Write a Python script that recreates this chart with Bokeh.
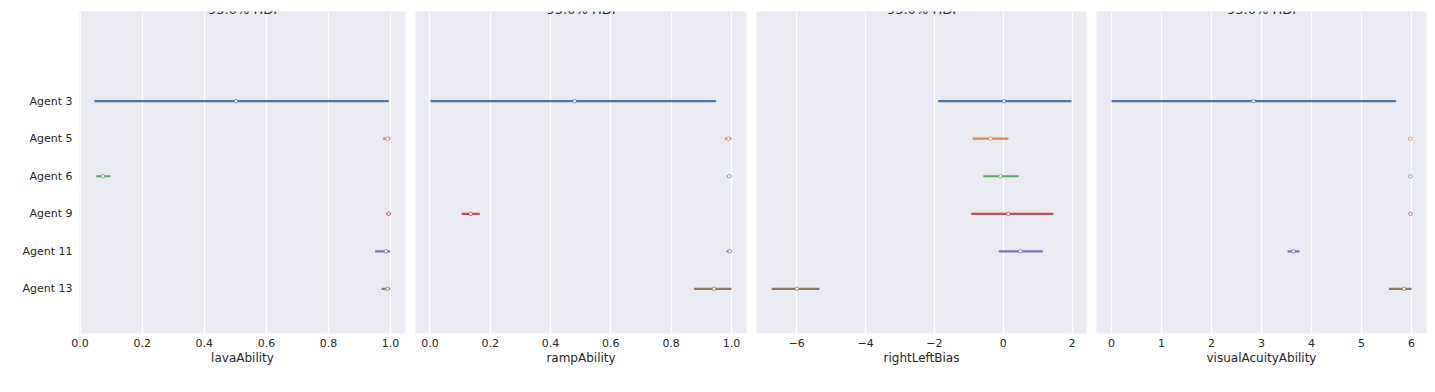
from bokeh.plotting import figure
from bokeh.layouts import row
from bokeh.models import FixedTicker, Range1d, Label, ColumnDataSource
from bokeh.embed import file_html
from bokeh.resources import INLINE

# ---------------- data ----------------
agents = ["Agent 3", "Agent 5", "Agent 6", "Agent 9", "Agent 11", "Agent 13"]
agent_colors = ["#4C72B0", "#DD8452", "#55A868", "#C44E52", "#8172B3", "#937860"]
params = ["lavaAbility", "rampAbility", "rightLeftBias", "visualAcuityAbility"]
hdi_label = "95.0% HDI"

lava_low = [0.046, 0.976, 0.052, 0.987, 0.950, 0.971]
lava_high = [0.994, 0.999, 0.098, 1.000, 0.999, 0.999]
lava_mid = [0.502, 0.990, 0.073, 0.994, 0.985, 0.990]

ramp_low = [0.002, 0.978, 0.985, 0.105, 0.984, 0.876]
ramp_high = [0.949, 1.000, 1.000, 0.165, 1.000, 1.000]
ramp_mid = [0.480, 0.990, 0.993, 0.135, 0.995, 0.942]

bias_low = [-1.89, -0.89, -0.58, -0.93, -0.13, -6.73]
bias_high = [1.98, 0.15, 0.45, 1.46, 1.15, -5.34]
bias_mid = [0.02, -0.37, -0.08, 0.15, 0.50, -6.00]

visual_low = [0.00, 5.94, 5.95, 5.96, 3.52, 5.55]
visual_high = [5.69, 6.00, 6.00, 6.00, 3.76, 6.00]
visual_mid = [2.84, 5.98, 5.98, 5.98, 3.64, 5.85]

lows = [lava_low, ramp_low, bias_low, visual_low]
highs = [lava_high, ramp_high, bias_high, visual_high]
mids = [lava_mid, ramp_mid, bias_mid, visual_mid]

x_ticks = [
    [0.0, 0.2, 0.4, 0.6, 0.8, 1.0],
    [0.0, 0.2, 0.4, 0.6, 0.8, 1.0],
    [-6, -4, -2, 0, 2],
    [0, 1, 2, 3, 4, 5, 6],
]
x_tick_labels = [
    ["0.0", "0.2", "0.4", "0.6", "0.8", "1.0"],
    ["0.0", "0.2", "0.4", "0.6", "0.8", "1.0"],
    ["\u22126", "\u22124", "\u22122", "0", "2"],
    ["0", "1", "2", "3", "4", "5", "6"],
]
x_ranges = [(-0.002, 1.048), (-0.048, 1.050), (-7.17, 2.42), (-0.30, 6.30)]

# ---------------- style ----------------
FONT = "DejaVu Sans"
TXT = "#262626"
BG = "#EAEAF2"

frame_widths = [326, 331, 330, 330]
frame_heights = [322, 328, 328, 328]
left_borders = [79, 5, 5, 5]
FIG_H = 385
TOP = 11

ypos = [len(agents) - 1 - i for i in range(len(agents))]

figs = []
for k in range(4):
    fw = frame_widths[k]
    fh = frame_heights[k]
    p = figure(
        width=left_borders[k] + fw + 5,
        height=FIG_H,
        x_range=Range1d(*x_ranges[k]),
        y_range=Range1d(-1.19, 7.39),
        output_backend="svg",
        toolbar_location=None,
        min_border_left=left_borders[k],
        min_border_right=5,
        min_border_top=TOP,
        min_border_bottom=FIG_H - TOP - fh,
    )
    p.background_fill_color = BG
    p.border_fill_color = "white"
    p.outline_line_color = None

    p.xgrid.grid_line_color = "white"
    p.xgrid.grid_line_width = 1.2
    p.ygrid.grid_line_color = None
    p.xgrid.ticker = FixedTicker(ticks=x_ticks[k])

    xa = p.xaxis[0]
    xa.ticker = FixedTicker(ticks=x_ticks[k])
    xa.major_label_overrides = {t: lab for t, lab in zip(x_ticks[k], x_tick_labels[k])}
    xa.axis_label = params[k]
    xa.axis_line_color = None
    xa.major_tick_line_color = None
    xa.minor_tick_line_color = None
    xa.major_tick_out = 0
    xa.major_tick_in = 0
    xa.minor_tick_out = 0
    xa.major_label_text_font = FONT
    xa.major_label_text_font_size = "11px"
    xa.major_label_text_color = TXT
    xa.major_label_standoff = 5
    xa.axis_label_text_font = FONT
    xa.axis_label_text_font_size = "12px"
    xa.axis_label_text_font_style = "normal"
    xa.axis_label_text_color = TXT
    xa.axis_label_standoff = 1

    ya = p.yaxis[0]
    if k == 0:
        ya.ticker = FixedTicker(ticks=ypos)
        ya.major_label_overrides = {y: a for y, a in zip(ypos, agents)}
        ya.axis_line_color = None
        ya.major_tick_line_color = None
        ya.minor_tick_line_color = None
        ya.major_tick_out = 0
        ya.major_tick_in = 0
        ya.minor_tick_out = 0
        ya.major_label_text_font = FONT
        ya.major_label_text_font_size = "11px"
        ya.major_label_text_color = TXT
        ya.major_label_standoff = 7
    else:
        ya.visible = False

    src = ColumnDataSource(dict(
        y=ypos, lo=lows[k], hi=highs[k], mid=mids[k], color=agent_colors,
    ))
    p.segment(x0="lo", x1="hi", y0="y", y1="y", line_color="color",
              line_width=2.2, source=src)
    p.scatter(x="mid", y="y", size=3.5, marker="circle", fill_color="white",
              line_color="color", line_width=0.8, source=src)

    p.add_layout(Label(
        x=(x_ranges[k][0] + x_ranges[k][1]) / 2, y=7.39, text=hdi_label,
        text_align="center", text_baseline="alphabetic", y_offset=2,
        text_font=FONT, text_font_size="13px", text_color=TXT,
    ))
    figs.append(p)

layout = row(*figs)
open("out.html", "w").write(file_html(layout, INLINE))
